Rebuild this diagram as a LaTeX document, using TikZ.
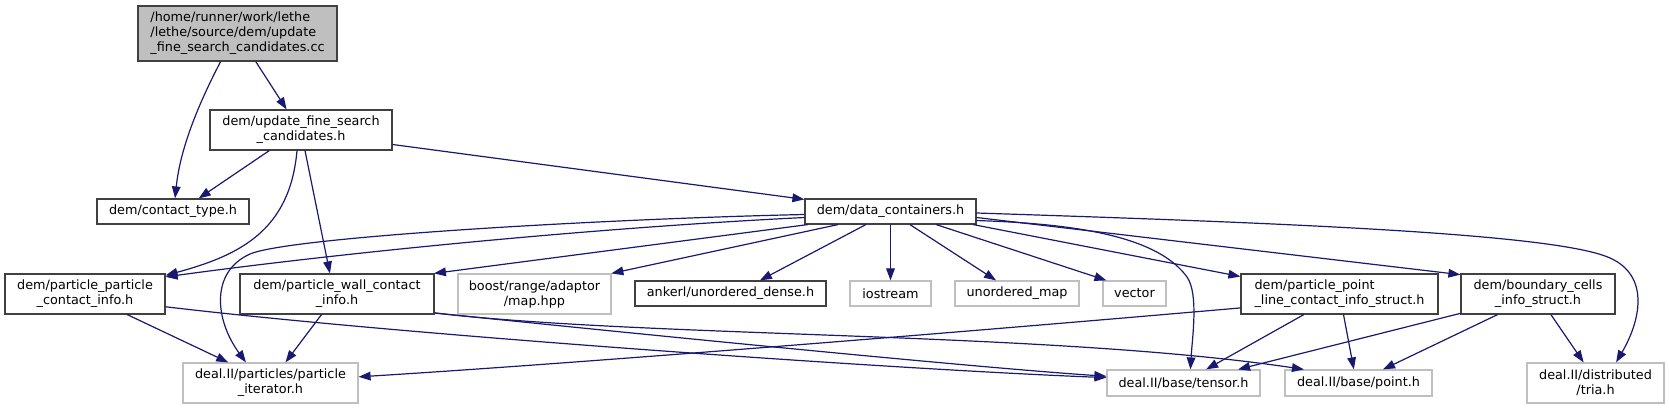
\documentclass[tikz,border=0pt]{standalone}
\usepackage{fontspec}
\setmainfont{DejaVu Sans}
\usetikzlibrary{arrows.meta}
\definecolor{edgeblue}{HTML}{191970}
\definecolor{grey25}{HTML}{404040}
\definecolor{grey75}{HTML}{BFBFBF}
\tikzset{wh/.style n args={2}{minimum width=#1*0.75pt,minimum height=#2*0.75pt}}

\begin{document}
\begin{tikzpicture}[x=0.75pt,y=-0.75pt,
  font=\fontsize{9.6}{11.25}\selectfont,
  hdr/.style={draw=grey25,line width=0.9pt,inner sep=0pt,align=center},
  sys/.style={draw=grey75,line width=0.9pt,inner sep=0pt,align=center},
  dep/.style={draw=edgeblue,line width=0.9pt,-{Triangle[length=9pt,width=6.5pt]}}]
\useasboundingbox (0,0) rectangle (1669,409);

% 第1层 源文件
\node[hdr,fill=grey75,wh={199}{55},align=left] (src) at (237.5,33.5) {/home/runner/work/lethe\\/lethe/source/dem/update\\\_fine\_search\_candidates.cc};

% 第2层
\node[hdr,wh={182}{40}] (upd) at (301,130) {dem/update\_fine\_search\\\_candidates.h};

% 第3层
\node[hdr,wh={152}{25}] (ctype) at (173,211.5) {dem/contact\_type.h};
\node[hdr,wh={171}{25}] (dc) at (890.5,211.5) {dem/data\_containers.h};

% 第4层
\node[hdr,wh={160}{40}] (ppc) at (85,294) {dem/particle\_particle\\\_contact\_info.h};
\node[hdr,wh={194}{40}] (pwc) at (337,294) {dem/particle\_wall\_contact\\\_info.h};
\node[sys,wh={153}{40}] (boost) at (534.5,294) {boost/range/adaptor\\/map.hpp};
\node[hdr,wh={191}{25}] (ank) at (730.5,293.5) {ankerl/unordered\_dense.h};
\node[sys,wh={81}{25}] (ios) at (890.5,293.5) {iostream};
\node[sys,wh={124}{25}] (umap) at (1017,293.5) {unordered\_map};
\node[sys,wh={63}{25}] (vec) at (1134.5,293.5) {vector};
\node[hdr,wh={197}{40},align=left] (pplc) at (1339.5,294) {dem/particle\_point\\\_line\_contact\_info\_struct.h};
\node[hdr,wh={154}{40}] (bcis) at (1538,294) {dem/boundary\_cells\\\_info\_struct.h};

% 底层
\node[sys,wh={175}{40}] (iter) at (270.5,383) {deal.II/particles/particle\\\_iterator.h};
\node[sys,wh={153}{26}] (tens) at (1183.5,383) {deal.II/base/tensor.h};
\node[sys,wh={147}{26}] (pnt) at (1358.5,383) {deal.II/base/point.h};
\node[sys,wh={137}{40}] (tria) at (1595.5,383) {deal.II/distributed\\/tria.h};

% ========== 依赖 ==========
% 源文件
\draw[dep] (src.-121) .. controls +(-23,44) and +(5,-49) .. (ctype.81);
\draw[dep] (src.-57.5) -- (upd.125);

% 第2层
\draw[dep] (upd.-147) -- (ctype.27.5);
\draw[dep] (upd.-101) .. controls +(-7,80) and +(74,-20) .. (ppc.13);
\draw[dep] (upd.-79) -- (pwc.109);
\draw[dep] (upd.-9) -- (dc.172);

% data_containers 左边
\draw[dep] (dc.-178) .. controls (600,219) and (290,237) .. (250,254)
  .. controls (210,272) and (215,320) .. (iter.140);
\draw[dep] (dc.-176) .. controls +(-205,10) and +(183,-25) .. (ppc.12);
\draw[dep] (dc.-171) -- (pwc.12);
\draw[dep] (dc.-166) -- (boost.15);
\draw[dep] (dc.-152) -- (ank.24);
\draw[dep] (dc) -- (ios);
\draw[dep] (dc.-34) -- (umap.148);
\draw[dep] (dc.-16) -- (vec.155);

% data_containers 右边
\draw[dep] (dc.-6) .. controls (1090,224) and (1160,240) .. (1187,277)
  .. controls (1199,294) and (1192,340) .. (tens.63);
\draw[dep] (dc.-9) -- (pplc.170);
\draw[dep] (dc.-4) -- (bcis.166);
\draw[dep] (dc.-1) .. controls (1250,222) and (1539,232) .. (1605,256)
  .. controls (1650,272) and (1642,318) .. (tria.45);

% 第4层 -> 底层
\draw[dep] (ppc.-26) -- (iter.154);
\draw[dep] (ppc.-9) .. controls +(234,28) and +(-207,-8) .. (tens.176);

\draw[dep] (pwc.-127) -- (iter.54);
\draw[dep] (pwc.-11) .. controls +(116,12) and +(-150,-10) .. (tens.175);
\draw[dep] (pwc.-11.5) .. controls +(216,25) and +(-255,-38) .. (pnt.166);

\draw[dep] (pplc.-172) .. controls +(-241,21) and +(242,-15) .. (iter.4);
\draw[dep] (pplc.-150) -- (tens.31);
\draw[dep] (pplc.-79) -- (pnt.109);

\draw[dep] (bcis.-166) -- (tens.14);
\draw[dep] (bcis.-153) -- (pnt.29);
\draw[dep] (bcis.-58) -- (tria.120);
\end{tikzpicture}
\end{document}
